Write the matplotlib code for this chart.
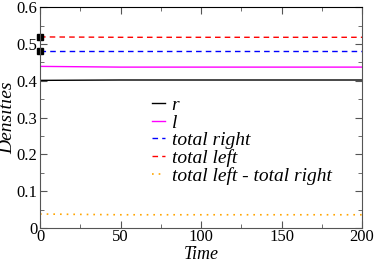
import numpy as np
import matplotlib
matplotlib.use("Agg")
from matplotlib import pyplot as plt
from matplotlib.ticker import MultipleLocator

# data
time = [0, 50, 100, 150, 200]
r = [0.401, 0.402, 0.402, 0.402, 0.402]
l = [0.439, 0.437, 0.437, 0.437, 0.437]
total_right = [0.482, 0.482, 0.482, 0.482, 0.482]
total_left = [0.519, 0.518, 0.518, 0.518, 0.518]
diff = [0.038, 0.036, 0.036, 0.036, 0.036]
start_marks = [0.52, 0.48]

plt.rcParams['font.family'] = ['Liberation Serif', 'DejaVu Serif']

fig = plt.figure(figsize=(3.74, 2.63), dpi=100)
ax = fig.add_axes([0.107, 0.133, 0.861, 0.840])

ax.plot(time, r, color='black', lw=1, label='r')
ax.plot(time, l, color='magenta', lw=1, label='l')
ax.plot(time, total_right, color='blue', lw=1, ls=(0, (4, 3)), label='total right')
ax.plot(time, total_left, color='red', lw=1, ls=(0, (4, 3)), label='total left')
ax.plot(time, diff, color='orange', lw=1.2, ls=(0, (1, 3)), label='total left - total right')
ax.plot([0, 0], start_marks, 's', color='black', ms=5, clip_on=False)

ax.set_xlim(0, 200)
ax.set_ylim(0, 0.6)
ax.xaxis.set_major_locator(MultipleLocator(50))
ax.xaxis.set_minor_locator(MultipleLocator(25))
ax.yaxis.set_minor_locator(MultipleLocator(0.05))
ax.set_yticks([0, 0.1, 0.2, 0.3, 0.4, 0.5, 0.6])
ax.set_yticklabels(['0', '0.1', '0.2', '0.3', '0.4', '0.5', '0.6'])
ax.tick_params(which='both', direction='in', top=True, right=True, labelsize=12,
               color='#555555', pad=2)
ax.tick_params(axis='x', pad=1)
ax.tick_params(which='major', length=5)
ax.tick_params(which='minor', length=3)
for s in ax.spines.values():
    s.set_color('#555555')
ax.spines['top'].set_color('black')

ax.set_xlabel('Time', fontsize=13, style='italic')
ax.xaxis.set_label_coords(0.5, -0.082)
ax.set_ylabel('Densities', fontsize=14, style='italic', va='center')
ax.yaxis.set_label_coords(-0.1, 0.5)

ax.legend(loc='upper left', bbox_to_anchor=(0.318, 0.64), frameon=False,
          handlelength=0.65, handletextpad=0.35, labelspacing=0.0, borderpad=0,
          prop={'style': 'italic', 'size': 14})

fig.savefig('out.png', dpi=100)
